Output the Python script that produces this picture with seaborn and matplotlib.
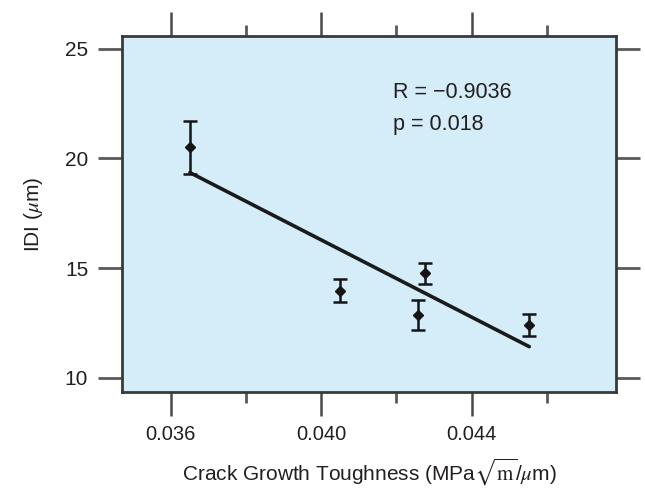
import numpy as np
import pandas as pd
import matplotlib
matplotlib.use("Agg")
import matplotlib.pyplot as plt
import seaborn as sns

# ─── DATA ────────────────────────────────────────────────────────────────────
toughness = [0.03651, 0.04050, 0.04276, 0.04258, 0.04553]
idi       = [20.50, 13.97, 14.76, 12.86, 12.41]
idi_err   = [1.20, 0.52, 0.48, 0.68, 0.49]

x_ticks = [0.036, 0.040, 0.044]
x_minor = [0.038, 0.042, 0.046]
x_tick_labels = ["0.036", "0.040", "0.044"]
y_ticks = [10, 15, 20, 25]

r_text = "R = \u22120.9036"
p_text = "p = 0.018"

df = pd.DataFrame({"toughness": toughness, "idi": idi, "err": idi_err})

# ─── STYLE ───────────────────────────────────────────────────────────────────
sns.set_style("ticks")
plt.rcParams["font.family"] = ["Liberation Sans", "DejaVu Sans"]
plt.rcParams["mathtext.fontset"] = "stix"

txt_col = "#231f20"

fig = plt.figure(figsize=(6.45, 4.91), dpi=100)
ax = fig.add_axes([0.1884, 0.2016, 0.7674, 0.7251])
ax.set_facecolor("#D5ECF9")

# regression line
sns.regplot(data=df, x="toughness", y="idi", ax=ax, scatter=False, ci=None,
            truncate=True, line_kws={"color": "#1a1a1a", "lw": 2.6})

# points with error bars
ax.errorbar(df["toughness"], df["idi"], yerr=df["err"], fmt="D", ms=5.5,
            color="#151515", ecolor="#151515", elinewidth=1.8,
            capsize=5, capthick=1.8, zorder=3)

ax.set_xlim(0.034692, 0.047849)
ax.set_ylim(9.36, 25.57)

ax.set_xticks(x_ticks)
ax.set_xticklabels(x_tick_labels)
ax.set_xticks(x_minor, minor=True)
ax.set_yticks(y_ticks)

ax.tick_params(axis="x", which="major", direction="out", length=17, width=1.8,
               color="#4a4a4a", top=True, bottom=True, labelsize=14.5,
               labelcolor=txt_col, pad=7)
ax.tick_params(axis="x", which="minor", direction="out", length=8, width=2,
               color="#5a5a5a", top=True, bottom=True)
ax.tick_params(axis="y", which="major", direction="out", length=17, width=2,
               color="#5a5a5a", left=True, right=True, labelsize=15,
               labelcolor=txt_col, pad=7)

for s in ax.spines.values():
    s.set_visible(True)
    s.set_linewidth(2)
    s.set_color("#3a3a3a")

ax.set_xlabel("Crack Growth Toughness (MPa$\\sqrt{\\mathrm{m}}$/$\\mu$m)",
              fontsize=15, color=txt_col, labelpad=9)
ax.set_ylabel("IDI ($\\mu$m)", fontsize=15, color=txt_col, labelpad=14)

ax.text(0.548, 0.840, r_text, transform=ax.transAxes, fontsize=15.5,
        color=txt_col, va="center")
ax.text(0.548, 0.750, p_text, transform=ax.transAxes, fontsize=15.5,
        color=txt_col, va="center")

plt.savefig("out.png", dpi=100)
plt.close()
